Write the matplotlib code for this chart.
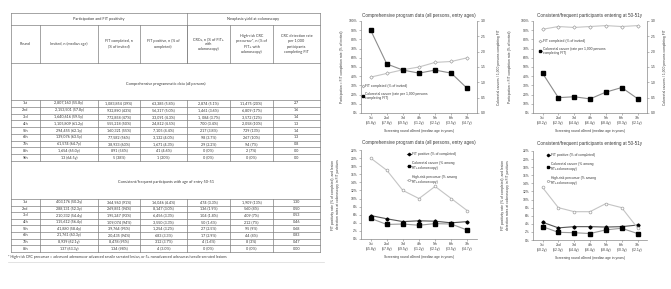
import numpy as np
import matplotlib
matplotlib.use("Agg")
import matplotlib.pyplot as plt

plt.rcParams['font.family'] = ['Liberation Sans', 'DejaVu Sans']

W, H = 671, 289

# ---- table data ----
headers = ["Round", "Invited, n (median age)", "FIT completed, n\n(% of invited)",
           "FIT positive, n (% of\ncompleted)", "CRCs, n (% of FIT+\nwith\ncolonoscopy)",
           "High-risk CRC\nprecursor*, n (% of\nFIT+ with\ncolonoscopy)",
           "CRC detection rate\nper 1,000\nparticipants\ncompleting FIT"]
group_headers = ["Participation and FIT positivity", "Neoplasia yield at colonoscopy"]
section_titles = ["Comprehensive programmatic data (all persons)",
                  "Consistent/frequent participants with age of entry 50-51"]

rounds1 = ["1st", "2nd", "3rd", "4th", "5th", "6th", "7th", "8th", "9th"]
invited1 = ["2,807,160 (55.8y)", "2,153,501 (57.8y)", "1,640,616 (59.5y)", "1,105,809 (61.2y)",
            "294,455 (62.1y)", "139,076 (63.5y)", "61,574 (64.7y)", "1,654 (65.0y)", "13 (64.5y)"]
fitdone1 = ["1,083,854 (39%)", "932,890 (43%)", "772,858 (47%)", "555,218 (50%)", "160,321 (55%)",
            "77,582 (56%)", "38,933 (60%)", "891 (54%)", "5 (38%)"]
fitpos1 = ["63,385 (5.8%)", "56,317 (5.0%)", "33,091 (4.3%)", "24,812 (4.5%)", "7,105 (4.4%)",
           "3,132 (4.0%)", "1,671 (4.3%)", "41 (4.6%)", "1 (20%)"]
crcs1 = ["2,874 (5.1%)", "1,461 (3.6%)", "1, 084 (3.7%)", "700 (3.4%)", "217 (3.8%)", "98 (3.7%)",
         "29 (2.2%)", "0 (0%)", "0 (0%)"]
hrisk1 = ["11,475 (20%)", "6,809 (17%)", "3,572 (12%)", "2,058 (10%)", "729 (13%)", "267 (10%)",
          "94 (7%)", "2 (7%)", "0 (0%)"]
rate1 = ["2.7", "1.6", "1.4", "1.3", "1.4", "1.3", "0.8", "0.0", "0.0"]

rounds2 = ["1st", "2nd", "3rd", "4th", "5th", "6th", "7th", "8th"]
invited2 = ["403,176 (50.2y)", "288,131 (52.3y)", "210,332 (54.4y)", "115,612 (56.4y)",
            "41,880 (58.4y)", "21,761 (60.3y)", "8,939 (62.1y)", "137 (63.3y)"]
fitdone2 = ["364,960 (91%)", "269,851 (94%)", "195,247 (93%)", "109,074 (94%)", "39,764 (95%)",
            "20,435 (94%)", "8,478 (95%)", "134 (98%)"]
fitpos2 = ["16,046 (4.4%)", "8,147 (3.0%)", "6,456 (3.3%)", "3,550 (3.3%)", "1,254 (3.2%)",
           "683 (3.3%)", "312 (3.7%)", "4 (3.0%)"]
crcs2 = ["474 (3.3%)", "136 (1.9%)", "104 (1.8%)", "50 (1.6%)", "27 (2.5%)", "17 (2.9%)",
         "4 (1.6%)", "0 (0%)"]
hrisk2 = ["1,909 (13%)", "560 (8%)", "409 (7%)", "212 (7%)", "95 (9%)", "44 (8%)", "8 (3%)", "0 (0%)"]
rate2 = ["1.30", "0.50", "0.53", "0.46", "0.68", "0.83", "0.47", "0.00"]

footnote = ("* High-risk CRC precursor = advanced adenoma or advanced sessile serrated lesion, "
            "or 5+ nonadvanced adenomas/sessile serrated lesions")

# ---- chart data ----
xt_all = ["1st\n(55.8y)", "2nd\n(57.8y)", "3rd\n(59.5y)", "4th\n(61.2y)", "5th\n(62.1y)",
          "6th\n(63.5y)", "7th\n(64.7y)"]
xt_5051 = ["1st\n(50.2y)", "2nd\n(52.3y)", "3rd\n(54.4y)", "4th\n(56.4y)", "5th\n(58.4y)",
           "6th\n(60.3y)", "7th\n(62.1y)"]
fit_completed_all = [39, 43, 47, 50, 55, 56, 60]
crc_rate_all = [2.7, 1.6, 1.4, 1.3, 1.4, 1.3, 0.8]
fit_completed_5051 = [91, 94, 93, 94, 95, 94, 95]
crc_rate_5051 = [1.30, 0.50, 0.53, 0.46, 0.68, 0.83, 0.47]
fit_pos_all = [5.8, 5.0, 4.3, 4.5, 4.4, 4.0, 4.3]
crc_pct_all = [5.1, 3.6, 3.7, 3.4, 3.8, 3.7, 2.2]
hr_pct_all = [20, 17, 12, 10, 13, 10, 7]
fit_pos_5051 = [4.4, 3.0, 3.3, 3.3, 3.2, 3.3, 3.7]
crc_pct_5051 = [3.3, 1.9, 1.8, 1.6, 2.5, 2.9, 1.6]
hr_pct_5051 = [13, 8, 7, 7, 9, 8, 3]

TXT = '#3a3a3a'
fig = plt.figure(figsize=(W / 100, H / 100), dpi=100)


def box(l, t, r, b):
    return [l / W, 1 - b / H, (r - l) / W, (b - t) / H]


# ---------------- table ----------------
tab = fig.add_axes([0, 0, 1, 1])
tab.set_xlim(0, W)
tab.set_ylim(H, 0)
tab.axis('off')
cols = [11, 40, 98, 140, 187, 230, 273, 320]
lc, lw = '#808080', 0.5
tfont = dict(family=['Lato', 'DejaVu Sans'], color=TXT)
y_top, y_g, y_h = 13, 25, 63
y_s1 = 100
pitch1 = 6.78
y_r1 = y_s1 + pitch1 * len(rounds1)
y_s2 = 199
pitch2 = 6.6
y_r2 = y_s2 + pitch2 * len(rounds2)

# outer and horizontal lines
for y in [y_top, y_g, y_h, y_s1, y_r1, y_s2, y_r2]:
    tab.plot([cols[0], cols[-1]], [y, y], color=lc, lw=lw)
for i in range(1, len(rounds1)):
    tab.plot([cols[0], cols[-1]], [y_s1 + i * pitch1] * 2, color=lc, lw=lw)
for i in range(1, len(rounds2)):
    tab.plot([cols[0], cols[-1]], [y_s2 + i * pitch2] * 2, color=lc, lw=lw)
tab.plot([cols[0]] * 2, [y_top, y_r2], color=lc, lw=lw)
tab.plot([cols[-1]] * 2, [y_top, y_r2], color=lc, lw=lw)
tab.plot([cols[4]] * 2, [y_top, y_h], color=lc, lw=lw)
for c in cols[1:-1]:
    tab.plot([c, c], [y_g, y_h], color=lc, lw=lw)
    tab.plot([c, c], [y_s1, y_r1], color=lc, lw=lw)
    tab.plot([c, c], [y_s2, y_r2], color=lc, lw=lw)
tab.plot([8, 324], [262, 262], color='#d8d8d8', lw=0.5)

tab.text((cols[0] + cols[4]) / 2, (y_top + y_g) / 2, group_headers[0], ha='center', va='center', fontsize=2.8, **tfont)
tab.text((cols[4] + cols[-1]) / 2, (y_top + y_g) / 2, group_headers[1], ha='center', va='center', fontsize=2.8, **tfont)
for j, h in enumerate(headers):
    tab.text((cols[j] + cols[j + 1]) / 2, (y_g + y_h) / 2, h, ha='center', va='center',
             fontsize=2.7, linespacing=1.35, **tfont)
tab.text((cols[0] + cols[-1]) / 2, (y_h + y_s1) / 2 + 2, section_titles[0], ha='center', va='center', fontsize=2.8, **tfont)
tab.text((cols[0] + cols[-1]) / 2, (y_r1 + y_s2) / 2 + 2, section_titles[1], ha='center', va='center', fontsize=2.8, **tfont)

for table_cols, y0, pitch in [([rounds1, invited1, fitdone1, fitpos1, crcs1, hrisk1, rate1], y_s1, pitch1),
                              ([rounds2, invited2, fitdone2, fitpos2, crcs2, hrisk2, rate2], y_s2, pitch2)]:
    for j, colvals in enumerate(table_cols):
        for i, v in enumerate(colvals):
            tab.text((cols[j] + cols[j + 1]) / 2, y0 + (i + 0.5) * pitch, v, ha='center', va='center',
                     fontsize=2.7, **tfont)
tab.text(8, 257, footnote, ha='left', va='center', fontsize=2.6, **tfont)

# ---------------- charts ----------------
TICK = 2.4
TITLE = 3.3


def style_axes(ax, xt):
    for s in ['top', 'right']:
        ax.spines[s].set_visible(False)
    for s in ['left', 'bottom']:
        ax.spines[s].set_color('#888')
        ax.spines[s].set_linewidth(0.5)
    ax.set_xticks(range(len(xt)))
    ax.set_xticklabels(xt, fontsize=TICK, color=TXT, linespacing=1.3)
    ax.set_xlim(-0.6, len(xt) - 0.4)
    ax.tick_params(axis='both', length=1.3, width=0.4, color='#888', pad=1.2, labelsize=TICK, labelcolor=TXT)
    ax.set_xlabel('Screening round offered (median age in years)', fontsize=TICK, color=TXT, labelpad=2.5)


def participation_chart(rect, title, xt, completed, rate, leg_anchor, ylx, y2x):
    ax = fig.add_axes(box(*rect))
    style_axes(ax, xt)
    x = np.arange(len(xt))
    l1, = ax.plot(x, completed, color='#c4c4c4', lw=0.8, marker='D', ms=1.8, mfc='white', mec='#a0a0a0',
                  mew=0.5, label='FIT completed (% of invited)')
    ax.set_ylim(0, 100)
    ax.set_yticks(range(0, 101, 10))
    ax.set_yticklabels([f'{v}%' for v in range(0, 101, 10)])
    ax.set_title(title, fontsize=TITLE, color=TXT, pad=3)
    ax.set_ylabel('Participation = FIT completion rate (% of invited)', fontsize=TICK, color=TXT)
    ax.yaxis.set_label_coords(ylx, 0.5)
    ax2 = ax.twinx()
    for s in ['top', 'left', 'bottom']:
        ax2.spines[s].set_visible(False)
    ax2.spines['right'].set_color('#888')
    ax2.spines['right'].set_linewidth(0.5)
    l2, = ax2.plot(x, rate, color='#8c8c8c', lw=0.8, marker='s', ms=2.2, mfc='black', mec='black',
                   label='Colorectal cancer (rate per 1,000 persons\ncompleting FIT)')
    ax2.set_ylim(0, 3.0)
    ax2.set_yticks(np.arange(0, 3.01, 0.5))
    ax2.set_yticklabels([f'{v:.1f}' for v in np.arange(0, 3.01, 0.5)])
    ax2.tick_params(axis='y', length=1.3, width=0.4, color='#888', pad=1.2, labelsize=TICK, labelcolor=TXT)
    ax2.set_ylabel('Colorectal cancers / 1,000 persons completing FIT', fontsize=TICK, color=TXT)
    ax2.yaxis.set_label_coords(y2x, 0.5)
    ax2.legend(handles=[l1, l2], loc='upper left', bbox_to_anchor=leg_anchor, frameon=False,
               fontsize=TICK, handlelength=1.0, handletextpad=0.3, borderpad=0, borderaxespad=0,
               labelspacing=1.0, labelcolor=TXT, markerscale=0.8)


def yield_chart(rect, title, xt, fitpos, crc, hr, leg_anchor, ylx):
    ax = fig.add_axes(box(*rect))
    style_axes(ax, xt)
    x = np.arange(len(xt))
    ax.plot(x, fitpos, color='#555', lw=0.8, marker='D', ms=1.6, mfc='black', mec='black',
            label='FIT positive (% of completed)')
    ax.plot(x, crc, color='#9a9a9a', lw=0.8, marker='s', ms=2.2, mfc='black', mec='black',
            label='Colorectal cancer (% among\nFIT+colonoscopy)')
    ax.plot(x, hr, color='#c4c4c4', lw=0.8, marker='o', ms=2.0, mfc='white', mec='#a0a0a0', mew=0.5,
            label='High-risk precursor (% among\nFIT+colonoscopy)')
    ax.set_ylim(0, 22)
    ax.set_yticks(range(0, 23, 2))
    ax.set_yticklabels([f'{v}%' for v in range(0, 23, 2)])
    ax.set_title(title, fontsize=TITLE, color=TXT, pad=4.5)
    ax.set_ylabel('FIT positivity rate (% of completed), and lesion\ndetection rates at colonoscopy in FIT positives',
                  fontsize=TICK, color=TXT, linespacing=1.4)
    ax.yaxis.set_label_coords(ylx, 0.5)
    ax.legend(loc='upper left', bbox_to_anchor=leg_anchor, frameon=False, fontsize=TICK,
              handlelength=1.0, handletextpad=0.3, borderpad=0, borderaxespad=0,
              labelspacing=1.6, labelcolor=TXT, markerscale=0.8)


participation_chart((361, 21, 477, 113), 'Comprehensive program data (all persons, entry ages)',
                    xt_all, fit_completed_all, crc_rate_all, (0.0, 0.31), -0.15, 1.17)
participation_chart((533, 21, 647, 113), 'Consistent/frequent participants entering at 50-51y',
                    xt_5051, fit_completed_5051, crc_rate_5051, (0.05, 0.8), -0.18, 1.14)
yield_chart((361, 150, 477, 239), 'Comprehensive program data (all persons, entry ages)',
            xt_all, fit_pos_all, crc_pct_all, hr_pct_all, (0.4, 0.98), -0.18)
yield_chart((533, 151, 647, 240), 'Consistent/frequent participants entering at 50-51y',
            xt_5051, fit_pos_5051, crc_pct_5051, hr_pct_5051, (0.12, 0.98), -0.2)

fig.savefig('out.png', dpi=100, facecolor='white')
